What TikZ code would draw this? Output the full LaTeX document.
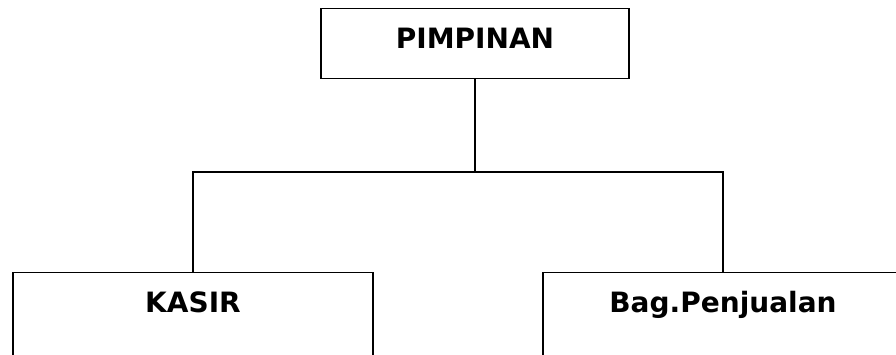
\documentclass[tikz,border=0pt]{standalone}
\usepackage{fontspec}
\setmainfont{DejaVu Sans}
\usepackage{tikz}
\usetikzlibrary{positioning}

\begin{document}
\begin{tikzpicture}[x=1pt, y=-1pt,
                    unit/.style = {rectangle, draw, line width=1.4pt, inner xsep=0pt, inner ysep=19pt,
                                   text height=21pt, align=center,
                                   font=\fontsize{28}{30}\selectfont\bfseries}]
          \clip (0,0) rectangle (896,354);
          \node[unit, minimum width=308pt, text depth=11pt, anchor=north] (pim) at (475, 8) {PIMPINAN};
          \node[unit, minimum width=360pt, text depth=60pt, anchor=north] (kasir) at (193, 272) {KASIR};
          \node[unit, minimum width=360pt, text depth=60pt, anchor=north] (jual) at (723, 272) {Bag.Penjualan};

          \coordinate (bus) at (475, 172);
          \draw[-,line width=1.4pt] (pim.south) to (bus);
          \draw[-,line width=1.4pt] (bus) -| (kasir.north);
          \draw[-,line width=1.4pt] (bus) -| (jual.north);
        \end{tikzpicture}
\end{document}
